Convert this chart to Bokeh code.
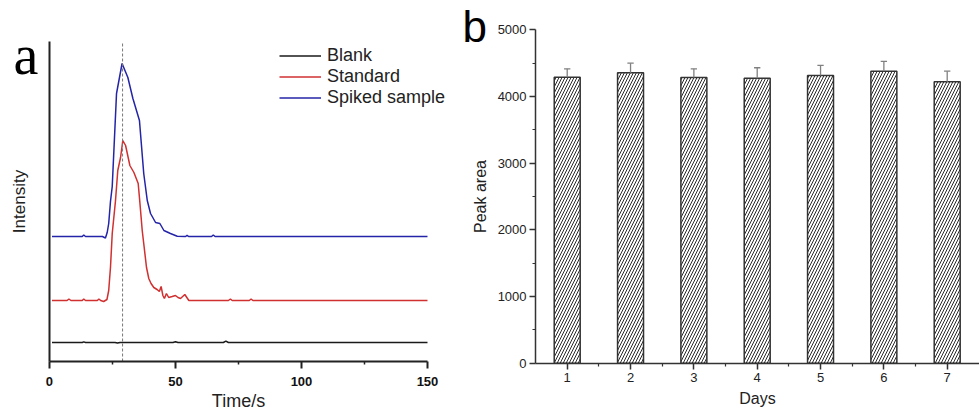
from bokeh.plotting import figure
from bokeh.models import Range1d, FixedTicker, Label, Legend, LegendItem, LinearAxis
from bokeh.layouts import row
from bokeh.embed import file_html
from bokeh.resources import INLINE

# ---------------- Panel a data (time in s, intensity in arbitrary units) ----------------
blank_t = [1, 13, 13.6, 14.3, 26, 27, 28, 49, 50, 51, 69, 70, 71, 150]
blank_i = [19, 19, 19.6, 19, 19, 18.4, 19, 19, 19.8, 19, 19, 20.4, 19, 19]

standard_t = [1, 7, 7.7, 8.5, 13, 13.6, 14.3, 19, 19.6, 20.3, 21.5, 22.8, 23.5, 24.2,
              24.9, 26.2, 27.1, 28.2, 29.1, 30.2, 31.9, 33.5, 35.2, 35.8, 36.8, 37.4,
              38.5, 39.4, 40.3, 41.4, 42.7, 43.6, 44.3, 45, 45.6, 46.4, 47.3, 48.7, 50,
              51, 52, 53.7, 55.3, 71, 71.8, 72.5, 79.3, 80, 80.7, 150]
standard_i = [61, 61, 62.5, 61, 61, 62.5, 61, 61, 62.5, 61, 60, 62, 71, 94,
              128, 161, 191, 204, 221, 216, 196, 189, 178, 161, 131, 118,
              94, 83, 78, 74, 72, 70, 75, 66, 63, 68, 64, 65, 66,
              64, 63, 67, 61, 61, 62.5, 61, 61, 62.5, 61, 61]

spiked_t = [1, 13, 13.6, 14.3, 21, 22.2, 22.9, 23.5, 24.2, 24.9, 26.6, 28.8, 31.1, 33.1,
            35.7, 37.4, 38.8, 40.1, 42.1, 43.8, 45.4, 48, 50.7, 54, 54.6, 55.2, 64.3,
            65, 65.7, 150]
spiked_i = [125, 125, 126.5, 125, 125, 123.5, 129, 138, 160, 175, 268, 298, 284, 263,
            241, 188, 161, 148, 139, 138, 131, 128, 125.3, 125, 126.2, 125, 125,
            126.5, 125, 125]

marker_time = 29  # dashed reference line

# ---------------- Panel b data ----------------
days = [1, 2, 3, 4, 5, 6, 7]
peak_area = [4290, 4356, 4285, 4275, 4316, 4380, 4221]
peak_err = [125, 144, 130, 156, 150, 146, 159]

FONT = "Liberation Sans"

# ================= Panel a =================
# the frame fills the whole figure; axes sit at fixed data locations with bounds
pa = figure(width=460, height=412, output_backend="svg", toolbar_location=None,
            x_range=Range1d(-19.44, 163.1), y_range=Range1d(-51, 361),
            min_border=0, x_axis_type=None, y_axis_type=None)
pa.outline_line_color = None
pa.xgrid.visible = False
pa.ygrid.visible = False

r_blank = pa.line(blank_t, blank_i, line_color="#1a1a1a", line_width=1.5)
r_std = pa.line(standard_t, standard_i, line_color="#d03030", line_width=1.5)
r_spk = pa.line(spiked_t, spiked_i, line_color="#2424a8", line_width=1.5)

pa.segment(x0=[marker_time], y0=[0], x1=[marker_time], y1=[320], line_color="#777777",
           line_width=1, line_dash="3 2")

xa = LinearAxis(fixed_location=0, bounds=(0, 150))
xa.ticker = FixedTicker(ticks=[0, 50, 100, 150], minor_ticks=[25, 75, 125])
xa.axis_line_width = 2
xa.axis_line_color = "#222222"
xa.major_tick_line_width = 2
xa.major_tick_line_color = "#222222"
xa.minor_tick_line_width = 1.5
xa.minor_tick_line_color = "#222222"
xa.major_tick_in = 0
xa.major_tick_out = 7
xa.minor_tick_in = 0
xa.minor_tick_out = 3
xa.major_label_text_font = FONT
xa.major_label_text_font_size = "13px"
xa.major_label_text_font_style = "bold"
xa.major_label_text_color = "#111111"
xa.major_label_standoff = 8
xa.axis_label = "Time/s"
xa.axis_label_text_font = FONT
xa.axis_label_text_font_size = "18px"
xa.axis_label_text_font_style = "normal"
xa.axis_label_text_color = "#222222"
xa.axis_label_standoff = 2
pa.add_layout(xa, "below")

ya = LinearAxis(fixed_location=0, bounds=(0, 320))
ya.ticker = FixedTicker(ticks=[])
ya.axis_line_width = 2
ya.axis_line_color = "#222222"
ya.major_tick_out = 0
ya.major_tick_in = 0
ya.minor_tick_out = 0
ya.minor_tick_in = 0
ya.major_label_standoff = 0
ya.axis_label = "Intensity"
ya.axis_label_text_font = FONT
ya.axis_label_text_font_size = "17px"
ya.axis_label_text_font_style = "normal"
ya.axis_label_text_color = "#222222"
ya.axis_label_standoff = 21
pa.add_layout(ya, "left")

legend = Legend(items=[LegendItem(label="Blank", renderers=[r_blank]),
                       LegendItem(label="Standard", renderers=[r_std]),
                       LegendItem(label="Spiked sample", renderers=[r_spk])],
                location=(279, 304), padding=0, margin=0, spacing=0,
                glyph_width=42, glyph_height=21, label_height=21, label_standoff=6,
                label_text_font=FONT, label_text_font_size="18px",
                label_text_color="#222222",
                border_line_color=None, background_fill_alpha=0)
pa.add_layout(legend)

pa.add_layout(Label(x=13, y=358, x_units="screen", y_units="screen", text="a",
                    text_font="Liberation Serif", text_font_size="56px",
                    text_color="#000000", text_baseline="middle"))

# ================= Panel b =================
pb = figure(width=519, height=412, output_backend="svg", toolbar_location=None,
            x_range=Range1d(-0.685, 7.51), y_range=Range1d(-740, 5440),
            min_border=0, x_axis_type=None, y_axis_type=None)
pb.outline_line_color = None
pb.xgrid.visible = False
pb.ygrid.visible = False

pb.vbar(x=days, top=peak_area, width=0.41, bottom=0, fill_color="white",
        line_color="#333333", line_width=1.5,
        hatch_pattern="/", hatch_color="#2a2a2a", hatch_scale=6, hatch_weight=1)

upper = [v + e for v, e in zip(peak_area, peak_err)]
pb.segment(x0=days, y0=peak_area, x1=days, y1=upper, line_color="#808080", line_width=1.3)
pb.segment(x0=[d - 0.05 for d in days], y0=upper, x1=[d + 0.05 for d in days], y1=upper,
           line_color="#808080", line_width=1.3)

xb = LinearAxis(fixed_location=0, bounds=(0.5, 7.51))
xb.ticker = FixedTicker(ticks=days, minor_ticks=[1.5, 2.5, 3.5, 4.5, 5.5, 6.5])
yb = LinearAxis(fixed_location=0.5, bounds=(0, 5000))
yb.ticker = FixedTicker(ticks=[0, 1000, 2000, 3000, 4000, 5000],
                        minor_ticks=[500, 1500, 2500, 3500, 4500])
for ax in (xb, yb):
    ax.axis_line_width = 1.5
    ax.axis_line_color = "#333333"
    ax.major_tick_line_width = 1.5
    ax.major_tick_line_color = "#333333"
    ax.minor_tick_line_width = 1.2
    ax.minor_tick_line_color = "#333333"
    ax.major_tick_in = 0
    ax.major_tick_out = 6
    ax.minor_tick_in = 0
    ax.minor_tick_out = 3
    ax.major_label_text_font = FONT
    ax.major_label_text_font_size = "13px"
    ax.major_label_text_color = "#222222"
    ax.axis_label_text_font = FONT
    ax.axis_label_text_font_size = "16px"
    ax.axis_label_text_font_style = "normal"
    ax.axis_label_text_color = "#222222"
xb.major_label_standoff = 4
xb.axis_label = "Days"
xb.axis_label_standoff = 4
yb.major_label_standoff = 3
yb.axis_label = "Peak area"
yb.axis_label_standoff = 6
pb.add_layout(xb, "below")
pb.add_layout(yb, "left")

pb.add_layout(Label(x=2, y=386, x_units="screen", y_units="screen", text="b",
                    text_font=FONT, text_font_size="44px",
                    text_color="#000000", text_baseline="middle"))

layout = row(pa, pb)
open("out.html", "w").write(file_html(layout, INLINE))
